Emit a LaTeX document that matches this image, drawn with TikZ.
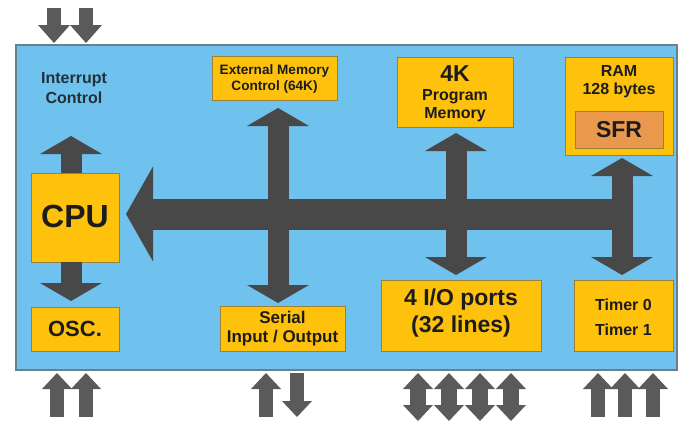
\documentclass[tikz,border=0pt]{standalone}
\usepackage{fontspec}
\setmainfont{Liberation Sans}
\usetikzlibrary{arrows.meta}
\definecolor{bluebg}{HTML}{6FC2EE}
\definecolor{blueedge}{HTML}{6E7F8C}
\definecolor{boxfill}{HTML}{FEC20C}
\definecolor{boxedge}{HTML}{9C8038}
\definecolor{sfrfill}{HTML}{E9984C}
\definecolor{busc}{HTML}{484848}
\definecolor{extc}{HTML}{5A5A5A}
\definecolor{txt}{HTML}{1C1C1C}
\definecolor{inttxt}{HTML}{23303A}
\tikzset{
  ybox/.style={draw=boxedge, line width=1pt, fill=boxfill, inner sep=0pt, minimum width=#1},
  lbl/.style={text=txt, inner sep=0pt, font=\bfseries\fontsize{16}{18}\selectfont, align=center},
  bus/.style={draw=busc, line width=21pt},
  bhead/.tip={Triangle[width=62pt 0, length=18pt 0, line width=0pt 0]},
  cpuhead/.tip={Triangle[width=95pt 0, length=27pt 0, line width=0pt 0]},
  thead/.tip={Triangle[width=32pt 0, length=18pt 0, line width=0pt 0]},
  ehead/.tip={Triangle[width=30pt 0, length=16pt 0, line width=0pt 0]},
  ext/.style={draw=extc, line width=14pt},
}
\begin{document}
\begin{tikzpicture}[x=1pt,y=-1pt]
\useasboundingbox (0,0) rectangle (681,423);
\fill[white] (0,0) rectangle (681,423);
% main board
\node[draw=blueedge, line width=1.2pt, fill=bluebg, minimum width=661pt, minimum height=325pt, inner sep=0pt] (board) at (346.5,207.5) {};

% boxes
\node[ybox=125pt, minimum height=44pt] (ext) at (274.5,78) {};
\node[ybox=116pt, minimum height=70pt] (prog) at (455,92) {};
\node[ybox=108pt, minimum height=98pt] (ram) at (619,106) {};
\node[draw=boxedge, line width=1pt, fill=sfrfill, inner sep=0pt, minimum width=88pt, minimum height=37pt] (sfr) at (619,129.5) {};
\node[ybox=88pt, minimum height=89pt] (cpu) at (75,217.5) {};
\node[ybox=88pt, minimum height=44pt] (osc) at (75,329) {};
\node[ybox=125pt, minimum height=45pt] (ser) at (282.5,328.5) {};
\node[ybox=160pt, minimum height=71pt] (io) at (461,315.5) {};
\node[ybox=99pt, minimum height=71pt] (tim) at (623.5,315.5) {};

% texts
\node[lbl, text=inttxt] (intA) at (74,80) {Interrupt};
\node[lbl, text=inttxt] (intB) at (74,98) {Control};
\node[lbl, font=\bfseries\fontsize{13.6}{16}\selectfont] (extA) at (274.5,71) {External Memory};
\node[lbl, font=\bfseries\fontsize{13.6}{16}\selectfont] (extBt) at (274.5,87) {Control (64K)};
\node[lbl, font=\bfseries\fontsize{23}{26}\selectfont] (progA) at (455,74) {4K};
\node[lbl] (progBt) at (455,97) {Program};
\node[lbl] (progCt) at (455,115) {Memory};
\node[lbl] (ramA) at (619,71) {RAM};
\node[lbl] (ramBt) at (619,90) {128 bytes};
\node[lbl, font=\bfseries\fontsize{23}{26}\selectfont] (sfrT) at (619,130) {SFR};
\node[lbl, font=\bfseries\fontsize{32}{36}\selectfont] (cpuT) at (75,216) {CPU};
\node[lbl, font=\bfseries\fontsize{22}{26}\selectfont] (oscT) at (75,329) {OSC.};
\node[lbl, font=\bfseries\fontsize{17}{20}\selectfont] (serA) at (282.5,317) {Serial};
\node[lbl, font=\bfseries\fontsize{17}{20}\selectfont] (serBt) at (282.5,338) {Input / Output};
\node[lbl, font=\bfseries\fontsize{23}{26}\selectfont] (ioA) at (461,300) {4 I/O ports};
\node[lbl, font=\bfseries\fontsize{23}{26}\selectfont] (ioBt) at (461,327) {(32 lines)};
\node[lbl] (timA) at (623.5,305) {Timer 0};
\node[lbl] (timBt) at (623.5,330) {Timer 1};

% internal bus
\coordinate (busR) at (633,214);
\coordinate (busL) at (126,214);
\coordinate (cpuUp) at (71,136);
\coordinate (cpuUpS) at (71,173);
\coordinate (cpuDn) at (71,301);
\coordinate (cpuDnS) at (71,262);
\coordinate (extTc) at (278,108);
\coordinate (extBc) at (278,303);
\coordinate (progTc) at (456,133);
\coordinate (progBc) at (456,275);
\coordinate (ramTc) at (622,158);
\coordinate (ramBc) at (622,275);

\draw[draw=busc, line width=31pt, -{cpuhead}] (busR) -- (busL);
\draw[bus, {bhead}-{bhead}] (extTc) -- (extBc);
\draw[bus, {bhead}-{bhead}] (progTc) -- (progBc);
\draw[bus, {bhead}-{bhead}] (ramTc) -- (ramBc);
\draw[bus, -{bhead}] (cpuUpS) -- (cpuUp);
\draw[bus, -{bhead}] (cpuDnS) -- (cpuDn);

% external arrows top
\coordinate (t1a) at (54,8); \coordinate (t1b) at (54,43);
\coordinate (t2a) at (86,8); \coordinate (t2b) at (86,43);
\draw[ext, -{thead}] (t1a) -- (t1b);
\draw[ext, -{thead}] (t2a) -- (t2b);

% bottom: osc
\coordinate (o1a) at (57,417); \coordinate (o1b) at (57,373);
\coordinate (o2a) at (86,417); \coordinate (o2b) at (86,373);
\draw[ext, -{ehead}] (o1a) -- (o1b);
\draw[ext, -{ehead}] (o2a) -- (o2b);

% bottom: serial
\coordinate (s1a) at (266,417); \coordinate (s1b) at (266,373);
\coordinate (s2a) at (297,373); \coordinate (s2b) at (297,417);
\draw[ext, -{ehead}] (s1a) -- (s1b);
\draw[ext, -{ehead}] (s2a) -- (s2b);

% bottom: io ports
\foreach \x/\n in {418/1,449/2,480/3,511/4}{
  \coordinate (p\n a) at (\x,373); \coordinate (p\n b) at (\x,421);
  \draw[ext, line width=16pt, {ehead}-{ehead}] (p\n a) -- (p\n b);
}

% bottom: timers
\foreach \x/\n in {598/1,625/2,653/3}{
  \coordinate (q\n a) at (\x,417); \coordinate (q\n b) at (\x,373);
  \draw[ext, -{ehead}] (q\n a) -- (q\n b);
}
\end{tikzpicture}
\end{document}
